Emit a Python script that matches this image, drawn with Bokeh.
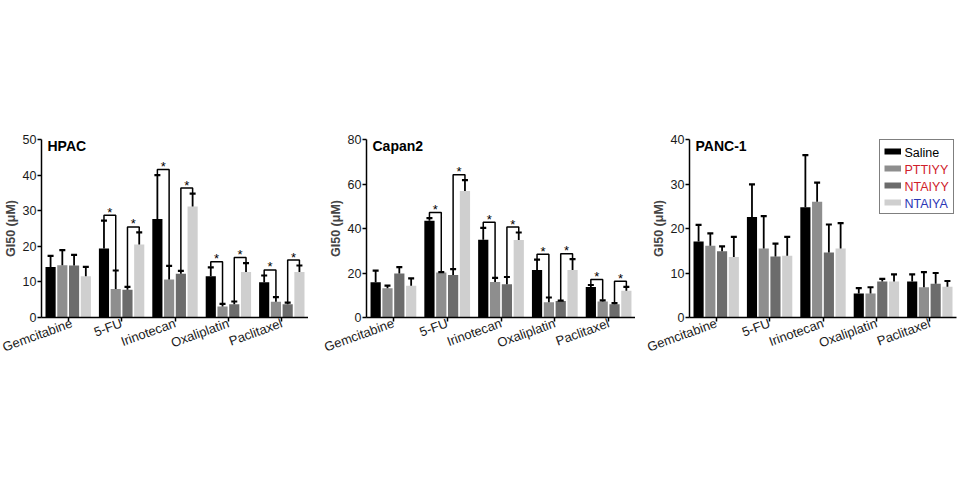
from bokeh.plotting import figure
from bokeh.models import FactorRange, Range1d, Label, Legend, LegendItem, ColumnDataSource, FixedTicker
from bokeh.layouts import row
from bokeh.transform import dodge
from bokeh.core.properties import value
from bokeh.embed import file_html
from bokeh.resources import INLINE

categories = ["Gemcitabine", "5-FU", "Irinotecan", "Oxaliplatin", "Paclitaxel"]
series = ["Saline", "PTTIYY", "NTAIYY", "NTAIYA"]
series_colors = ["#000000", "#8e8e8e", "#6c6c6c", "#cfcfcf"]
label_colors = ["#000000", "#d0202a", "#d0202a", "#2b35b5"]

# HPAC
hpac_saline = [14.2, 19.4, 27.7, 11.6, 9.9]
hpac_saline_err = [3.1, 7.8, 12.3, 2.5, 1.9]
hpac_pttiyy = [14.7, 8.0, 10.7, 3.1, 4.4]
hpac_pttiyy_err = [4.2, 5.2, 3.8, 0.7, 1.3]
hpac_ntaiyy = [14.6, 7.8, 12.3, 3.75, 3.7]
hpac_ntaiyy_err = [3.0, 0.8, 0.8, 0.75, 0.5]
hpac_ntaiya = [11.6, 20.5, 31.2, 12.8, 12.8]
hpac_ntaiya_err = [2.6, 3.4, 3.6, 2.5, 1.8]

# Capan2
capan2_saline = [15.8, 43.5, 35.0, 21.4, 13.7]
capan2_saline_err = [5.3, 1.2, 5.3, 4.6, 0.9]
capan2_pttiyy = [13.1, 20.2, 16.0, 6.8, 7.2]
capan2_pttiyy_err = [1.2, 0.2, 1.8, 2.2, 0.5]
capan2_ntaiyy = [19.8, 19.1, 15.0, 7.4, 6.0]
capan2_ntaiyy_err = [2.8, 2.6, 3.2, 0.2, 0.5]
capan2_ntaiya = [14.3, 56.8, 34.8, 21.4, 12.0]
capan2_ntaiya_err = [3.3, 4.9, 3.4, 4.8, 1.8]

# PANC-1
panc1_saline = [17.1, 22.6, 24.8, 5.4, 8.1]
panc1_saline_err = [3.7, 7.3, 11.7, 1.2, 1.6]
panc1_pttiyy = [16.1, 15.5, 26.0, 5.4, 6.8]
panc1_pttiyy_err = [2.8, 7.3, 4.3, 1.4, 3.4]
panc1_ntaiyy = [14.9, 13.7, 14.6, 8.1, 7.6]
panc1_ntaiyy_err = [1.1, 2.9, 6.3, 0.6, 2.4]
panc1_ntaiya = [13.6, 13.9, 15.5, 8.1, 6.9]
panc1_ntaiya_err = [4.5, 4.2, 5.7, 1.6, 1.3]

# significance pairs: (category index, bar a, bar b)
hpac_sig = [(1, 0, 1), (1, 2, 3), (2, 0, 1), (2, 2, 3), (3, 0, 1), (3, 2, 3), (4, 0, 1), (4, 2, 3)]
capan2_sig = [(1, 0, 1), (1, 2, 3), (2, 0, 1), (2, 2, 3), (3, 0, 1), (3, 2, 3), (4, 0, 1), (4, 2, 3)]
panc1_sig = []

FONT = "Liberation Sans"
FRAME_H = 178
PITCH = 0.22
BAR_W = 0.19
OFFSETS = [(k - 1.5) * PITCH for k in range(4)]


def make_panel(title, ymax, ystep, means, errs, sig, frame_w, left, right, legend=False):
    p = figure(x_range=FactorRange(*categories, range_padding=0), y_range=Range1d(0, ymax),
               frame_width=frame_w, frame_height=FRAME_H, output_backend="svg",
               toolbar_location=None, min_border_left=left, min_border_right=right,
               min_border_top=139, min_border_bottom=60, background_fill_color="white",
               border_fill_color="white", outline_line_color=None)
    p.xgrid.visible = False
    p.ygrid.visible = False

    for k in range(4):
        tops = [m + e for m, e in zip(means[k], errs[k])]
        src = ColumnDataSource(dict(cat=categories, val=means[k], top=tops))
        xk = dodge("cat", OFFSETS[k], range=p.x_range)
        p.vbar(x=xk, top="val", width=BAR_W, source=src, fill_color=series_colors[k], line_color=None)
        p.segment(x0=xk, y0="val", x1=xk, y1="top", source=src, line_color="black", line_width=1.8)
        p.scatter(x=xk, y="top", source=src, marker="dash", size=6, line_color="black", line_width=2.2)

    px = ymax / FRAME_H
    bx, by, sx, sy = [], [], [], []
    for c, a, b in sig:
        xa = c + 0.5 + OFFSETS[a]
        xb = c + 0.5 + OFFSETS[b]
        ta = means[a][c] + errs[a][c]
        tb = means[b][c] + errs[b][c]
        h = max(ta, tb) + 5.5 * px
        bx.append([xa, xa, xb, xb])
        by.append([ta + 0.5 * px, h, h, tb + 0.5 * px])
        sx.append((xa + xb) / 2)
        sy.append(h)
    if sig:
        p.multi_line(xs=bx, ys=by, line_color="black", line_width=1.5)
        p.text(x=sx, y=sy, text=["*"] * len(sx), text_font=value(FONT), text_font_size="13px",
               text_align="center", text_baseline="middle", y_offset=-3, text_color="black")

    p.yaxis.ticker = FixedTicker(ticks=list(range(0, ymax + 1, ystep)))
    for ax in (p.xaxis, p.yaxis):
        ax.axis_line_width = 1.5
        ax.axis_line_color = "black"
        ax.major_tick_line_width = 1.5
        ax.major_tick_out = 4
        ax.major_tick_in = 0
        ax.minor_tick_line_color = None
        ax.major_label_text_font = FONT
        ax.major_label_text_color = "#1a1a1a"
        ax.major_label_standoff = 1
    p.xaxis.major_label_text_font_size = "13px"
    p.yaxis.major_label_text_font_size = "12.5px"
    p.xaxis.major_label_orientation = 0.35
    p.yaxis.axis_label = "GI50 (\u03bcM)"
    p.yaxis.axis_label_text_font = FONT
    p.yaxis.axis_label_text_font_style = "bold"
    p.yaxis.axis_label_text_font_size = "12.5px"
    p.yaxis.axis_label_standoff = 2

    p.add_layout(Label(x=6, y=FRAME_H + 2, x_units="screen", y_units="screen", text=title,
                       text_font=FONT, text_font_style="bold", text_font_size="14px",
                       text_baseline="top", text_color="black"))

    if legend:
        items = []
        for k in range(4):
            r = p.line(x=[0.2, 0.4], y=[-20, -20], line_color=series_colors[k], line_width=6)
            items.append(LegendItem(label=series[k], renderers=[r]))
        lx, ly = 190, 103
        pad, rh, sp, gw, st = 4, 14, 3, 17, 4
        leg = Legend(items=items, location=(lx, ly), padding=pad, spacing=sp, margin=0,
                     glyph_width=gw, glyph_height=rh, label_height=rh, label_standoff=st,
                     label_text_font=FONT, label_text_font_size="12.5px", label_text_alpha=0,
                     border_line_color="black", border_line_width=1,
                     background_fill_alpha=0)
        p.add_layout(leg)
        H = 2 * pad + 4 * rh + 3 * sp
        for k in range(4):
            yc = ly + H - (pad + k * (rh + sp) + rh / 2)
            p.add_layout(Label(x=lx + pad + gw + st, y=yc, x_units="screen", y_units="screen",
                               text=series[k], text_font=FONT, text_font_size="12.5px",
                               text_baseline="middle", text_color=label_colors[k]))
    return p


p1 = make_panel("HPAC", 50, 10,
                [hpac_saline, hpac_pttiyy, hpac_ntaiyy, hpac_ntaiya],
                [hpac_saline_err, hpac_pttiyy_err, hpac_ntaiyy_err, hpac_ntaiya_err],
                hpac_sig, 267, 40, 0)
p2 = make_panel("Capan2", 80, 20,
                [capan2_saline, capan2_pttiyy, capan2_ntaiyy, capan2_ntaiya],
                [capan2_saline_err, capan2_pttiyy_err, capan2_ntaiyy_err, capan2_ntaiya_err],
                capan2_sig, 269, 58, 0)
p3 = make_panel("PANC-1", 40, 10,
                [panc1_saline, panc1_pttiyy, panc1_ntaiyy, panc1_ntaiya],
                [panc1_saline_err, panc1_pttiyy_err, panc1_ntaiyy_err, panc1_ntaiya_err],
                panc1_sig, 267, 54, 10, legend=True)

layout = row(p1, p2, p3)
open("out.html", "w").write(file_html(layout, INLINE))
